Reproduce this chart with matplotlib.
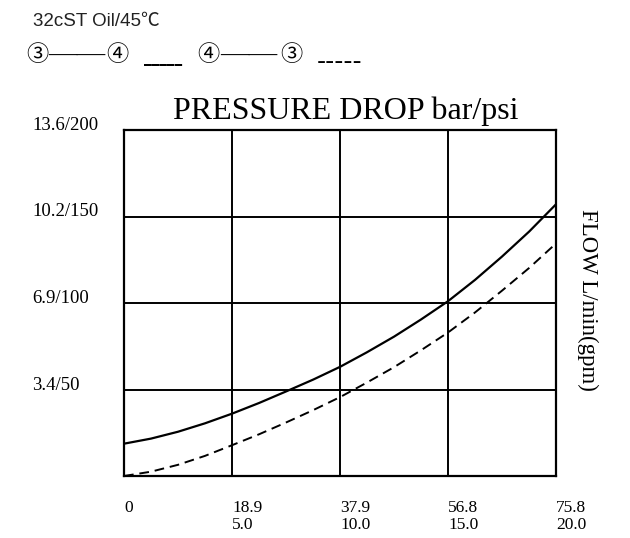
import matplotlib
matplotlib.use('Agg')
import matplotlib.pyplot as plt

# flow (L/min) and pressure drop (bar)
flow = [0, 4.74, 9.48, 14.2, 18.95, 23.7, 28.4, 33.2, 37.9,
		42.6, 47.4, 52.1, 56.85, 61.6, 66.3, 71.1, 75.8]
drop34 = [1.27, 1.47, 1.74, 2.07, 2.45, 2.87, 3.32, 3.79, 4.29,
		  4.86, 5.48, 6.15, 6.87, 7.71, 8.62, 9.61, 10.68]
drop43 = [0.0, 0.17, 0.44, 0.79, 1.21, 1.64, 2.10, 2.59, 3.10,
		  3.67, 4.28, 4.94, 5.64, 6.43, 7.28, 8.18, 9.14]

xticks = [0, 18.95, 37.9, 56.85, 75.8]
xlabels = ['0', '18.9\n5.0', '37.9\n10.0', '56.8\n15.0', '75.8\n20.0']
yticks = [3.4, 6.8, 10.2, 13.6]
ylabels = ['3.4/50', '6.9/100', '10.2/150', '13.6/200']

serif = ['Liberation Serif', 'DejaVu Serif']
sans = ['Liberation Sans', 'Noto Sans CJK SC', 'DejaVu Sans']
cjk = ['Noto Sans CJK SC', 'DejaVu Sans']

fig = plt.figure(figsize=(6.3, 5.38), dpi=100)
ax = fig.add_axes([124/630, 1-476/538, 432/630, 346/538])

ax.plot(flow, drop34, color='black', lw=1.6)
ax.plot(flow, drop43, color='black', lw=1.4, ls=(0, (5, 3)))

ax.set_xlim(0, 75.8)
ax.set_ylim(0, 13.6)
ax.set_xticks(xticks, xlabels, fontfamily=serif, fontsize=12.5)
ax.set_yticks(yticks, ylabels, fontfamily=serif, fontsize=13.5)
for lbl in ax.get_xticklabels():
	lbl.set_ha('left')
	lbl.set_multialignment('left')
	lbl.set_linespacing(1.12)
for lbl in ax.get_yticklabels():
	lbl.set_ha('left')
	lbl.set_va('baseline')
ax.tick_params(axis='x', length=0, pad=17)
ax.tick_params(axis='y', length=0, pad=66)
ax.grid(True, color='black', lw=1.4)
for sp in ax.spines.values():
	sp.set_linewidth(1.6)

fig.text(346/630, 1-111/538, 'PRESSURE DROP bar/psi', ha='center', va='center',
		 fontfamily=serif, fontsize=23)
ax.text(1.072, 0.51, 'FLOW L/min(gpm)', transform=ax.transAxes, rotation=-90,
		ha='center', va='center', fontfamily=serif, fontsize=16.5)

fig.text(33/630, 1-21/538, '32cST Oil/45℃', ha='left', va='center',
		 fontfamily=sans, fontsize=13.5, color='#222222')

# legend line
ly = 1-55/538
fig.text(26/630, ly, '③', ha='left', va='center', fontfamily=cjk, fontsize=16)
fig.text(48/630, ly, '——', ha='left', va='center', fontfamily=serif, fontsize=20.5)
fig.text(106/630, ly, '④', ha='left', va='center', fontfamily=cjk, fontsize=16)
fig.text(144/630, 1-62/538, '_____', ha='left', va='baseline',
		 fontfamily=['DejaVu Sans'], fontsize=11, fontweight='bold')
fig.text(197/630, ly, '④', ha='left', va='center', fontfamily=cjk, fontsize=16)
fig.text(220/630, ly, '——', ha='left', va='center', fontfamily=serif, fontsize=20.5)
fig.text(280/630, ly, '③', ha='left', va='center', fontfamily=cjk, fontsize=16)
fig.text(317/630, 1-69/538, '-----', ha='left', va='baseline',
		 fontfamily=['DejaVu Sans'], fontsize=18)

fig.savefig('out.png', dpi=100)
